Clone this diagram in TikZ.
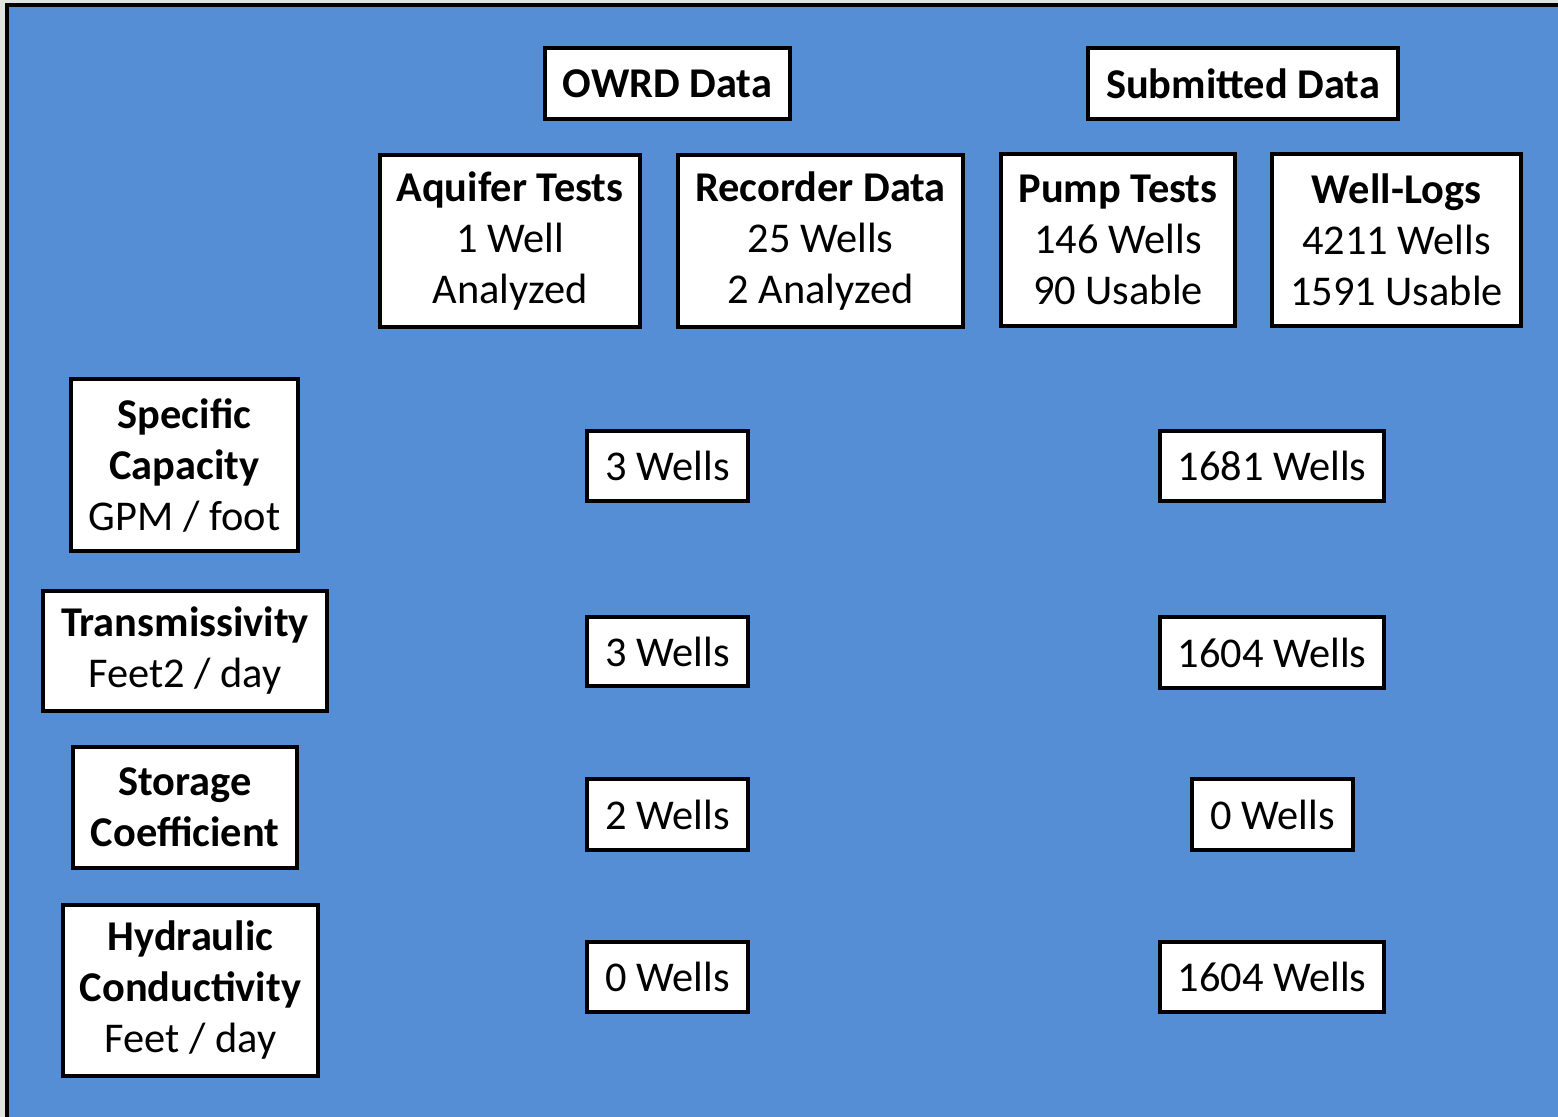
\documentclass[tikz,border=0pt]{standalone}
\usepackage{fontspec}
\setmainfont{Carlito}
\definecolor{panelblue}{RGB}{85,142,213}
\definecolor{paper}{RGB}{226,226,222}
\tikzset{
  box/.style={draw=black, line width=2pt, fill=white, inner sep=0pt,
    align=center, font=\fontsize{21.2pt}{25.5pt}\selectfont},
}
\begin{document}
\begin{tikzpicture}[x=0.5pt,y=-0.5pt]
\useasboundingbox (0,0) rectangle (1558,1117);
% backdrop and blue panel
\fill[paper] (0,0) rectangle (1558,1117);
\fill[panelblue] (7,5) rectangle (1570,1130);
\draw[line width=1.6pt] (7,1130) -- (7,5) -- (1570,5);

% column headers
\node[box, minimum width=122.5pt, minimum height=35.5pt] (owrd) at (667.5,83.5) {\textbf{OWRD Data}};
\node[box, minimum width=155pt, minimum height=35.5pt] (subm) at (1243,83.5) {\textbf{Submitted Data}};

% data sources
\node[box, minimum width=130pt, minimum height=86pt] (aq) at (510,241) {\textbf{Aquifer Tests}\\1 Well\\Analyzed};
\node[box, minimum width=142.5pt, minimum height=86pt] (rec) at (820.5,241) {\textbf{Recorder Data}\\25 Wells\\2 Analyzed};
\node[box, minimum width=117pt, minimum height=86pt] (pump) at (1118,240) {\textbf{Pump Tests}\\146 Wells\\90 Usable};
\node[box, minimum width=124.5pt, minimum height=86pt] (logs) at (1396.5,240) {\textbf{Well-Logs}\\4211 Wells\\1591 Usable};

% parameter labels
\node[box, minimum width=113.5pt, minimum height=86pt] (sc) at (184.5,465) {\textbf{Specific}\\\textbf{Capacity}\\GPM / foot};
\node[box, minimum width=142pt, minimum height=60pt] (tr) at (185,651) {\textbf{Transmissivity}\\Feet2 / day};
\node[box, minimum width=112pt, minimum height=60.5pt] (st) at (185,807.5) {\textbf{Storage}\\\textbf{Coefficient}};
\node[box, minimum width=127.5pt, minimum height=85.5pt] (hc) at (190.5,990.5) {\textbf{Hydraulic}\\\textbf{Conductivity}\\Feet / day};

% well counts, OWRD column
\node[box, minimum width=80.5pt, minimum height=35pt] (o1) at (667.5,466) {3 Wells};
\node[box, minimum width=80.5pt, minimum height=34.5pt] (o2) at (667.5,651.5) {3 Wells};
\node[box, minimum width=80.5pt, minimum height=35.5pt] (o3) at (667.5,814.5) {2 Wells};
\node[box, minimum width=80.5pt, minimum height=35pt] (o4) at (667.5,977) {0 Wells};

% well counts, submitted column
\node[box, minimum width=112pt, minimum height=35pt] (s1) at (1272,466) {1681 Wells};
\node[box, minimum width=112pt, minimum height=35.5pt] (s2) at (1272,652.5) {1604 Wells};
\node[box, minimum width=80.5pt, minimum height=35.5pt] (s3) at (1272.5,814.5) {0 Wells};
\node[box, minimum width=112pt, minimum height=35pt] (s4) at (1272,977) {1604 Wells};
\end{tikzpicture}
\end{document}
